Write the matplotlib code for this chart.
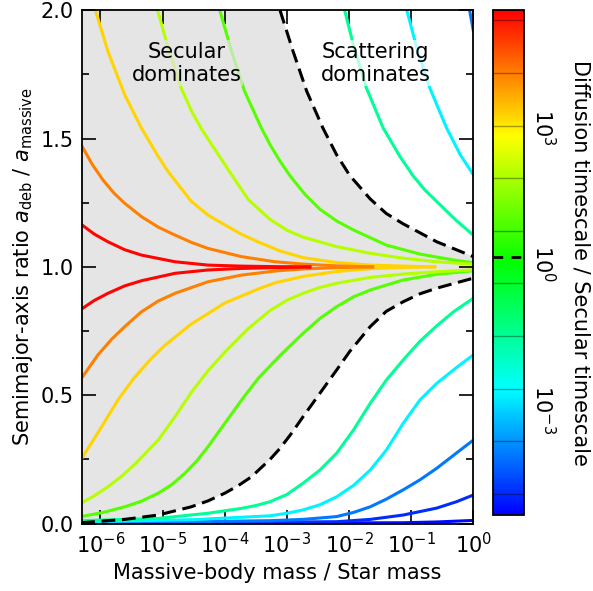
import numpy as np
import matplotlib as mpl
import matplotlib.pyplot as plt
from matplotlib.colors import LogNorm, LinearSegmentedColormap

mpl.rc('font', family='DejaVu Sans', size=14)
mpl.rc('mathtext', fontset='dejavusans')

# contour levels, log10(diffusion / secular timescale), highest first
log_levels = [5.04, 3.92, 2.80, 1.68, 0.56, -0.56, -1.68, -2.80, -3.92, -5.04]
# colour each contour takes on the colour scale (log10 units)
line_colour = [5.2, 3.9, 3.0, 1.8, 0.8, -1.7, -2.9, -4.2, -5.0, -5.4]
cbar_ticks = [1e-3, 1e0, 1e3]
cbar_ticklabels = ['$10^{-3}$', '$10^{0}$', '$10^{3}$']

# log10(mass ratio) and a_deb / a_massive
# upper branches (a > a_massive)
u1_m = [-6.31, -6.10, -5.88, -5.61, -5.34, -4.80, -4.27, -3.73, -3.19, -2.63]
u1_a = [1.166, 1.128, 1.098, 1.067, 1.046, 1.020, 1.007, 1.003, 1.001, 1.0]
u2_m = [-6.31, -6.13, -5.96, -5.78, -5.61, -5.34, -5.07, -4.80, -4.53, -4.27, -3.73, -3.19, -2.74, -2.20, -1.62]
u2_a = [1.476, 1.399, 1.339, 1.287, 1.248, 1.196, 1.155, 1.124, 1.095, 1.072, 1.040, 1.020, 1.011, 1.004, 1.0]
u3_m = [-6.08, -5.88, -5.61, -5.34, -5.07, -4.91, -4.54, -4.27, -4.00, -3.73, -3.46, -3.11, -2.74, -2.20, -1.66, -1.10, -0.62]
u3_a = [2.0, 1.840, 1.671, 1.541, 1.430, 1.371, 1.256, 1.202, 1.164, 1.127, 1.097, 1.062, 1.036, 1.017, 1.007, 1.003, 1.0]
u4_m = [-5.08, -4.91, -4.70, -4.53, -4.37, -4.11, -3.92, -3.62, -3.27, -3.00, -2.74, -2.20, -1.66, -1.13, -0.59, -0.05, 0.0]
u4_a = [2.0, 1.853, 1.697, 1.605, 1.536, 1.440, 1.370, 1.262, 1.185, 1.143, 1.116, 1.079, 1.053, 1.034, 1.020, 1.011, 1.010]
u5_m = [-4.08, -3.89, -3.68, -3.41, -3.27, -3.11, -2.95, -2.71, -2.47, -2.20, -1.93, -1.40, -0.86, -0.32, 0.0]
u5_a = [2.0, 1.840, 1.684, 1.541, 1.476, 1.412, 1.355, 1.283, 1.225, 1.179, 1.144, 1.085, 1.050, 1.027, 1.016]
u6_m = [-2.07, -1.93, -1.72, -1.45, -1.18, -0.97, -0.78, -0.59, -0.27, 0.0]
u6_a = [2.0, 1.865, 1.697, 1.541, 1.430, 1.355, 1.300, 1.255, 1.180, 1.124]
u7_m = [-1.07, -0.91, -0.70, -0.43, -0.21, 0.0]
u7_a = [2.0, 1.853, 1.697, 1.541, 1.437, 1.359]
u8_m = [-0.06, 0.0]
u8_a = [2.0, 1.92]

# lower branches (a < a_massive)
l1_m = [-6.31, -6.10, -5.88, -5.61, -5.34, -4.80, -4.27, -3.73, -3.19, -2.63]
l1_a = [0.835, 0.869, 0.897, 0.926, 0.946, 0.975, 0.988, 0.994, 0.997, 1.0]
l2_m = [-6.31, -6.04, -5.82, -5.61, -5.34, -5.07, -4.80, -4.27, -3.73, -3.19, -2.74, -2.20, -1.62]
l2_a = [0.564, 0.657, 0.718, 0.767, 0.825, 0.867, 0.897, 0.942, 0.968, 0.984, 0.992, 0.997, 1.0]
l3_m = [-6.31, -5.98, -5.72, -5.45, -5.18, -4.97, -4.54, -4.00, -3.46, -3.19, -2.74, -2.20, -1.66, -1.10, -0.62]
l3_a = [0.250, 0.377, 0.481, 0.570, 0.643, 0.693, 0.777, 0.859, 0.914, 0.938, 0.963, 0.982, 0.993, 0.998, 1.0]
l4_m = [-6.31, -6.10, -5.88, -5.66, -5.45, -5.07, -4.80, -4.54, -4.27, -3.97, -3.62, -3.27, -3.00, -2.74,
        -2.47, -2.20, -1.66, -1.13, -0.59, -0.05, 0.0]
l4_a = [0.079, 0.108, 0.143, 0.184, 0.230, 0.325, 0.416, 0.510, 0.595, 0.675, 0.760, 0.830, 0.870, 0.897,
        0.920, 0.936, 0.959, 0.972, 0.981, 0.988, 0.988]
l5_m = [-6.31, -5.96, -5.61, -5.34, -5.07, -4.85, -4.64, -4.45, -4.27, -4.00, -3.73, -3.46, -3.11, -2.74,
        -2.47, -2.20, -1.93, -1.66, -1.13, -0.59, 0.0]
l5_a = [0.027, 0.043, 0.065, 0.087, 0.118, 0.152, 0.196, 0.244, 0.299, 0.390, 0.481, 0.566, 0.655, 0.741,
        0.799, 0.845, 0.883, 0.910, 0.949, 0.971, 0.985]
l6_m = [-6.31, -5.07, -4.27, -3.73, -3.50, -3.27, -3.00, -2.74, -2.47, -2.20, -1.93, -1.66, -1.40, -1.13,
        -0.86, -0.59, -0.32, 0.0]
l6_a = [0.011, 0.020, 0.040, 0.059, 0.070, 0.085, 0.113, 0.157, 0.208, 0.274, 0.364, 0.468, 0.559, 0.637,
        0.710, 0.770, 0.825, 0.878]
l7_m = [-6.31, -4.50, -3.27, -3.00, -2.74, -2.47, -2.20, -1.93, -1.66, -1.40, -1.13, -0.86, -0.59, -0.27, 0.0]
l7_a = [0.007, 0.015, 0.030, 0.040, 0.053, 0.073, 0.104, 0.148, 0.208, 0.286, 0.390, 0.481, 0.546, 0.608, 0.657]
l8_m = [-6.31, -3.27, -2.74, -2.20, -1.93, -1.66, -1.40, -1.13, -0.86, -0.59, -0.27, 0.0]
l8_a = [0.002, 0.011, 0.016, 0.027, 0.043, 0.065, 0.095, 0.131, 0.170, 0.215, 0.275, 0.325]
l9_m = [-6.31, -2.20, -1.66, -1.13, -0.59, -0.27, 0.0]
l9_a = [0.0005, 0.007, 0.016, 0.033, 0.060, 0.085, 0.111]
l10_m = [-6.31, -1.13, -0.59, 0.0]
l10_a = [0.0, 0.003, 0.006, 0.012]

# timescale ratio = 1 boundary (dashed)
eq_up_m = [-3.11, -2.90, -2.68, -2.42, -2.20, -1.99, -1.66, -1.40, -1.13, -0.59, 0.0]
eq_up_a = [2.0, 1.840, 1.684, 1.541, 1.437, 1.357, 1.265, 1.208, 1.168, 1.098, 1.040]
eq_low_m = [-6.31, -5.61, -5.07, -4.54, -4.27, -4.00, -3.78, -3.57, -3.27, -3.11, -2.93, -2.74, -2.47,
            -2.20, -1.99, -1.66, -1.40, -1.13, -0.86, -0.59, 0.0]
eq_low_a = [0.003, 0.016, 0.033, 0.065, 0.088, 0.118, 0.148, 0.182, 0.250, 0.293, 0.350, 0.416, 0.507,
            0.598, 0.670, 0.767, 0.827, 0.864, 0.895, 0.917, 0.956]

upper = [(u1_m, u1_a), (u2_m, u2_a), (u3_m, u3_a), (u4_m, u4_a), (u5_m, u5_a),
         (u6_m, u6_a), (u7_m, u7_a), (u8_m, u8_a), None, None]
lower = [(l1_m, l1_a), (l2_m, l2_a), (l3_m, l3_a), (l4_m, l4_a), (l5_m, l5_a),
         (l6_m, l6_a), (l7_m, l7_a), (l8_m, l8_a), (l9_m, l9_a), (l10_m, l10_a)]

xmin, xmax = 5e-7, 1.0
ymin, ymax = 0.0, 2.0

cmap = LinearSegmentedColormap.from_list('bgr', ['#0000ff', '#00ffff', '#00ff00', '#ffff00', '#ff0000'])
norm = LogNorm(vmin=10**-5.49, vmax=10**5.26)

fig = plt.figure(figsize=(5.93, 5.91), dpi=100)
ax = fig.add_axes([0.1378, 0.1142, 0.6604, 0.8684])
cax = fig.add_axes([0.8319, 0.1286, 0.0518, 0.8544])

# shaded secular region
px = np.concatenate([[xmin], 10**np.array(eq_up_m), 10**np.array(eq_low_m)[::-1], [xmin]])
py = np.concatenate([[ymax], eq_up_a, eq_low_a[::-1], [ymin]])
ax.fill(px, py, color='#e5e5e5', lw=0, zorder=0)

# lowest level first, so the red curves sit on top near a = a_massive
for i in range(len(log_levels) - 1, -1, -1):
    c = cmap(norm(10**line_colour[i]))
    for branch in (upper[i], lower[i]):
        if branch is None:
            continue
        m, a = branch
        ax.plot(10**np.array(m), a, color=c, lw=2.2, zorder=2, solid_joinstyle='round')

ax.plot(10**np.array(eq_up_m), eq_up_a, color='k', lw=2.2, ls=(0, (4.5, 2.2)), zorder=3)
ax.plot(10**np.array(eq_low_m), eq_low_a, color='k', lw=2.2, ls=(0, (4.5, 2.2)), zorder=3)

ax.text(0.269, 0.897, 'Secular\ndominates', transform=ax.transAxes, ha='center', va='center',
        fontsize=15, zorder=4, bbox=dict(fc='#e5e5e5', ec='none', alpha=0.7, pad=1))
ax.text(0.750, 0.897, 'Scattering\ndominates', transform=ax.transAxes, ha='center', va='center',
        fontsize=15, zorder=4, bbox=dict(fc='white', ec='none', alpha=0.7, pad=1))

ax.set_xscale('log')
ax.set_xlim(xmin, xmax)
ax.set_ylim(ymin, ymax)
ax.set_xticks([1e-6, 1e-5, 1e-4, 1e-3, 1e-2, 1e-1, 1e0])
ax.set_yticks([0, 0.5, 1.0, 1.5, 2.0])
ax.yaxis.set_minor_locator(mpl.ticker.MultipleLocator(0.25))
ax.tick_params(which='both', direction='in', top=True, right=True, width=1.2)
ax.tick_params(which='major', length=10, labelsize=15, pad=6)
ax.tick_params(which='minor', length=5)
for s in ax.spines.values():
    s.set_linewidth(1.3)
ax.set_xlabel('Massive-body mass / Star mass', fontsize=15)
ax.set_ylabel(r'Semimajor-axis ratio $a_{\rm deb}$ / $a_{\rm massive}$', fontsize=15)

sm = mpl.cm.ScalarMappable(norm=norm, cmap=cmap)
cbar = fig.colorbar(sm, cax=cax)
cbar.set_ticks(cbar_ticks)
cbar.ax.minorticks_off()
cbar.ax.tick_params(length=0, labelright=False)
# rotated tick labels, nudged down the bar as in the original
for val, lab, dy in zip(cbar_ticks, cbar_ticklabels, [-8, -5, -8]):
    cax.annotate(lab, xy=(1, val), xycoords=('axes fraction', 'data'), xytext=(14, dy),
                 textcoords='offset points', rotation=270, ha='center', va='center', fontsize=15)
for lv in log_levels:
    cax.axhline(10**lv, color='k', lw=1, alpha=0.35)
cax.axhline(1.0, color='k', lw=2, ls=(0, (3.5, 3)))
cbar.outline.set_linewidth(1.3)
cbar.set_label('Diffusion timescale / Secular timescale', rotation=270, fontsize=15, labelpad=48)

fig.savefig('out.png', dpi=100)
